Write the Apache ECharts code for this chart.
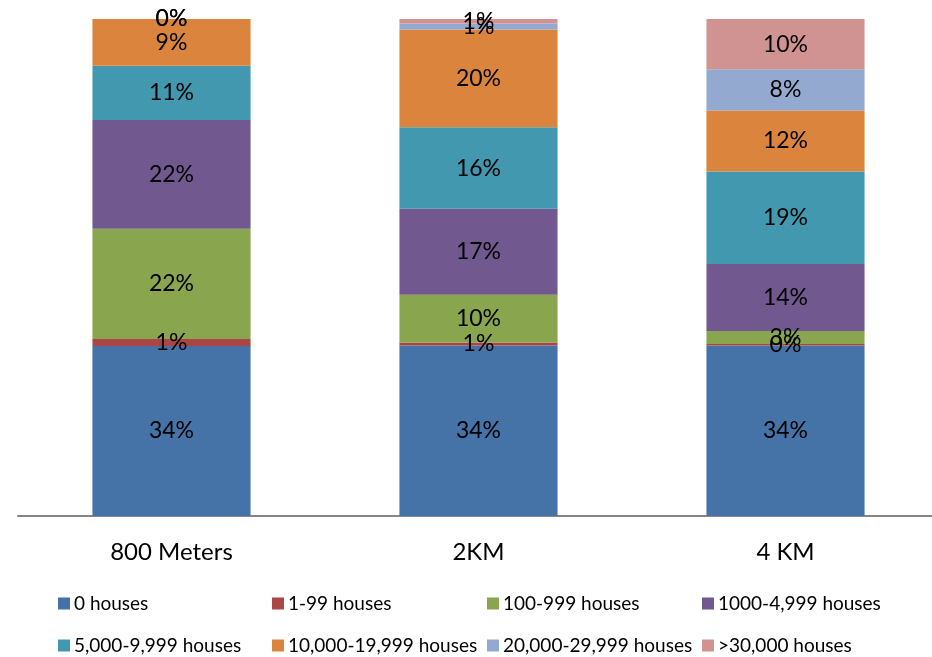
<!DOCTYPE html>
<html>
<head>
<meta charset="utf-8">
<script src="https://cdn.jsdelivr.net/npm/echarts@6/dist/echarts.min.js"></script>
<style>
  html, body { margin: 0; padding: 0; background: #fff; overflow: hidden; }
  /* plot runs slightly past the right edge of the page */
  #chart { width: 939px; height: 657px; }
</style>
</head>
<body>
<div id="chart"></div>
<script>
// Distance bands around each site
const categories = ['800 Meters', '2KM', '4 KM'];

// Share of area (%) by number of houses, per distance band
const seriesNames = [
  '0 houses', '1-99 houses', '100-999 houses', '1000-4,999 houses',
  '5,000-9,999 houses', '10,000-19,999 houses', '20,000-29,999 houses', '>30,000 houses'
];
const houses0      = [34.2, 34.3, 34.3];
const houses1_99   = [1.4, 0.6, 0.3];
const houses100    = [22.2, 9.6, 2.6];
const houses1000   = [21.9, 17.3, 13.5];
const houses5000   = [10.9, 16.4, 18.6];
const houses10000  = [9.4, 19.7, 12.3];
const houses20000  = [0, 1.2, 8.3];
const houses30000  = [0, 0.9, 10.1];

const seriesValues = [houses0, houses1_99, houses100, houses1000,
                      houses5000, houses10000, houses20000, houses30000];

const colors = ['#4572A7', '#AA4643', '#89A54E', '#71588F',
                '#4198AF', '#DB843D', '#93A9CF', '#D19392'];

const FONT = 'Lato, "Open Sans", "Noto Sans", sans-serif';

const chart = echarts.init(document.getElementById('chart'), null, { renderer: 'canvas' });

// One legend per entry so the two rows line up in columns
const legendCols = [58, 272, 487, 702];
const legendRows = [594, 636];
const legends = seriesNames.map((name, i) => ({
  data: [name],
  left: legendCols[i % 4],
  top: legendRows[Math.floor(i / 4)],
  icon: 'rect',
  itemWidth: 12,
  itemHeight: 12,
  itemGap: 5,
  selectedMode: false,
  padding: 0,
  textStyle: { fontFamily: FONT, fontSize: 19, color: '#000', padding: [0, 0, 0, -1] }
}));

const option = {
  animation: false,
  color: colors,
  grid: { left: 18, top: 19, right: 0, bottom: 141, containLabel: false },
  legend: legends,
  xAxis: {
    type: 'category',
    data: categories,
    axisLine: { show: true, lineStyle: { color: '#868686', width: 2 } },
    axisTick: { show: false },
    axisLabel: { fontFamily: FONT, fontSize: 24, color: '#000', margin: 24 }
  },
  yAxis: {
    type: 'value',
    min: 0,
    max: 100,
    show: false,
    splitLine: { show: false }
  },
  series: seriesNames.map((name, i) => ({
    name: name,
    type: 'bar',
    stack: 'total',
    barWidth: '51.5%',
    data: seriesValues[i],
    itemStyle: { color: colors[i] },
    label: {
      show: true,
      position: 'inside',
      fontFamily: FONT,
      fontSize: 23,
      color: '#000',
      formatter: p => Math.round(p.value) + '%'
    },
    labelLayout: { hideOverlap: false }
  }))
};

chart.setOption(option);
</script>
</body>
</html>
